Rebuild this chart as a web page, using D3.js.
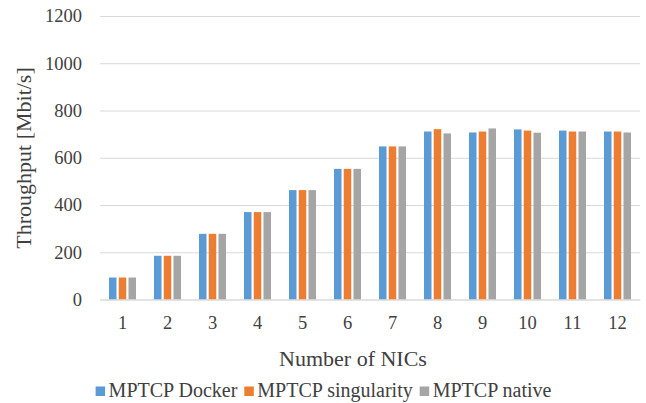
<!DOCTYPE html>
<html>
<head>
<meta charset="utf-8">
<script src="https://cdn.jsdelivr.net/npm/d3@7"></script>
<style>
  html, body { margin: 0; padding: 0; background: #fff; }
  svg { display: block; }
  svg text { font-family: "Liberation Serif", "Times New Roman", Times, "DejaVu Serif", serif !important; fill: #404040; }
</style>
</head>
<body>
<svg id="chart" width="646" height="403"></svg>
<script>
// Throughput per number of NICs for three MPTCP deployments
const categories = ["1", "2", "3", "4", "5", "6", "7", "8", "9", "10", "11", "12"];
const seriesNames = ["MPTCP Docker", "MPTCP singularity", "MPTCP native"];
const dockerValues = [93, 185, 278, 370, 463, 553, 648, 711, 707, 720, 715, 711];
const singularityValues = [93, 185, 278, 370, 463, 553, 648, 721, 711, 715, 711, 711];
const nativeValues = [93, 185, 278, 370, 463, 553, 648, 703, 724, 706, 711, 707];
const yTicks = [0, 200, 400, 600, 800, 1000, 1200];
const colors = ["#5B9BD5", "#ED7D31", "#A5A5A5"];

const seriesValues = [dockerValues, singularityValues, nativeValues];

const svg = d3.select("#chart");
const plot = { left: 100, right: 640, top: 16, bottom: 299.5 };

const x = d3.scaleBand().domain(categories).range([plot.left, plot.right]).padding(0);
const bw = x.bandwidth();
const x1 = d3.scaleBand().domain(seriesNames)
  .range([0.2 * bw, 0.8 * bw]).paddingInner(0.23).paddingOuter(0);
const y = d3.scaleLinear().domain([0, 1200]).range([plot.bottom, plot.top]);
const color = d3.scaleOrdinal().domain(seriesNames).range(colors);

// horizontal gridlines
const yAxis = d3.axisLeft(y).tickValues(yTicks).tickFormat(d3.format("d"))
  .tickSize(-(plot.right - plot.left)).tickPadding(18);
const gy = svg.append("g").attr("transform", `translate(${plot.left},0)`).call(yAxis);
gy.select(".domain").remove();
gy.selectAll(".tick line").attr("stroke", "#D9D9D9").attr("stroke-width", 1);
gy.selectAll(".tick text").attr("font-size", 18.5);

// bars
const rows = categories.map((c, i) => ({ cat: c, vals: seriesNames.map((s, k) => ({ s, v: seriesValues[k][i] })) }));
svg.append("g").selectAll("g").data(rows).join("g")
  .attr("transform", d => `translate(${x(d.cat)},0)`)
  .selectAll("rect").data(d => d.vals).join("rect")
  .attr("x", d => x1(d.s))
  .attr("width", x1.bandwidth())
  .attr("y", d => y(d.v))
  .attr("height", d => y(0) - y(d.v))
  .attr("fill", d => color(d.s));

// category axis
const xAxis = d3.axisBottom(x).tickSize(0).tickPadding(16);
const gx = svg.append("g").attr("transform", `translate(0,${plot.bottom})`).call(xAxis);
gx.select(".domain").attr("stroke", "#D9D9D9");
gx.selectAll(".tick text").attr("font-size", 18.5);

// axis titles
svg.append("text")
  .attr("transform", "translate(30.5,158) rotate(-90)")
  .attr("text-anchor", "middle")
  .attr("font-size", 22)
  .text("Throughput [Mbit/s]");

svg.append("text")
  .attr("x", 353).attr("y", 366)
  .attr("text-anchor", "middle")
  .attr("font-size", 22)
  .text("Number of NICs");

// legend
const legend = svg.append("g");
let lx = 0;
seriesNames.forEach((s, k) => {
  const item = legend.append("g").attr("transform", `translate(${lx},0)`);
  item.append("rect").attr("x", 0).attr("y", -10.5).attr("width", 9.5).attr("height", 9.5).attr("fill", colors[k]);
  const t = item.append("text").attr("x", 13).attr("y", 0).attr("font-size", 20).text(s);
  lx += 13 + t.node().getComputedTextLength() + 7;
});
const legendWidth = lx - 7;
legend.attr("transform", `translate(${323.5 - legendWidth / 2},397)`);
</script>
</body>
</html>
